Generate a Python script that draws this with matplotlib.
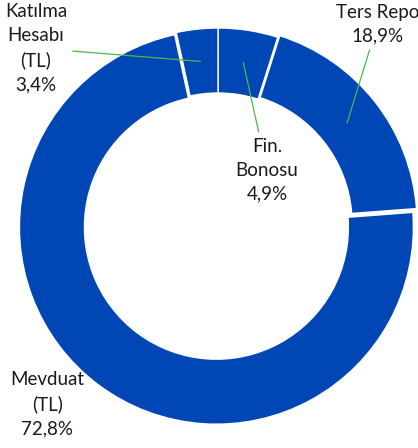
import numpy as np
import matplotlib.pyplot as plt

# data
labels = ['Fin.\nBonosu', 'Ters Repo', 'Mevduat\n(TL)', 'Katılma\nHesabı\n(TL)']
values = [4.9, 18.9, 72.8, 3.4]
explode = [0.0, 0.013, 0.014, 0.0]

blue = '#0047B5'
green = '#4CB848'

fig = plt.figure(figsize=(4.18, 4.48), dpi=100)
ax = fig.add_axes([0, 0, 1, 1])

wedges, _ = ax.pie(values, startangle=90, counterclock=False, colors=[blue]*4,
                   explode=explode, radius=1.0,
                   wedgeprops=dict(width=0.33, edgecolor='white', linewidth=1.0))

ax.set_xlim(-1.107, 1.015)
ax.set_ylim(-1.132, 1.142)
ax.set_aspect('equal')
ax.axis('off')

# label centers (data units) and whether to draw a leader line
label_pos = [(0.249, 0.279), (0.81, 1.02), (-0.868, -0.909), (-0.924, 0.898)]
leader = [True, True, False, True]

for w, lab, v, pos, ln in zip(wedges, labels, values, label_pos, leader):
    ang = np.deg2rad((w.theta1 + w.theta2) / 2)
    r = 0.835
    xy = (r * np.cos(ang), r * np.sin(ang))
    txt = lab + '\n' + ('%.1f' % v).replace('.', ',') + '%'
    if ln:
        ax.annotate(txt, xy=xy, xytext=pos, ha='center', va='center',
                    fontsize=13.5, family='Lato', color='#1a1a1a', linespacing=1.5,
                    arrowprops=dict(arrowstyle='-', color=green, lw=0.9,
                                    shrinkA=2, shrinkB=0))
    else:
        ax.text(pos[0], pos[1], txt, ha='center', va='center', fontsize=13.5,
                family='Lato', color='#1a1a1a', linespacing=1.5)

fig.savefig('out.png', dpi=100)
